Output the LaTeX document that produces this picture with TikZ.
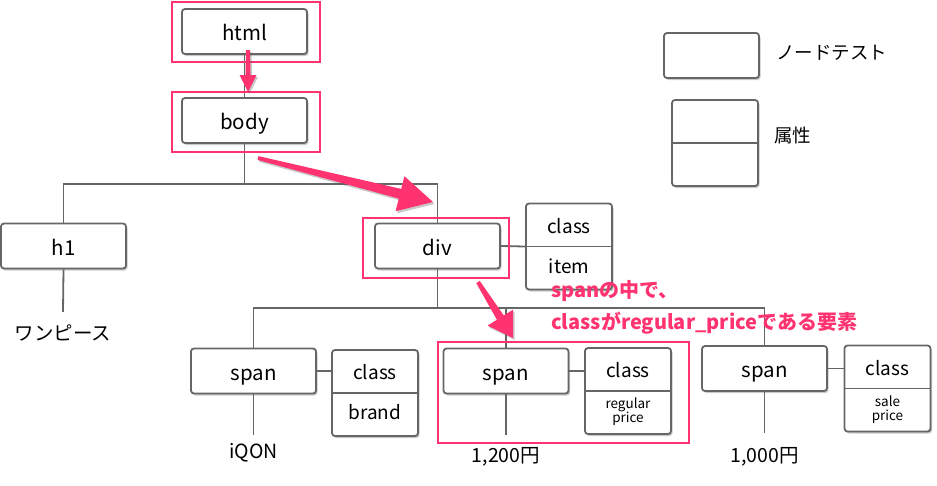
\documentclass[tikz,border=0pt]{standalone}
\usepackage{fontspec}
\setmainfont{Noto Sans CJK JP}
\usetikzlibrary{shadows}
\definecolor{gline}{HTML}{666666}
\definecolor{hot}{HTML}{FF3370}
\begin{document}
\begin{tikzpicture}[x=1pt,y=-1pt,
  shad/.style={drop shadow={shadow xshift=1.5pt,shadow yshift=-2pt,opacity=0.3,fill=black!70}},
  box/.style={draw=gline,line width=1.8pt,rounded corners=3pt,fill=white,shad,
    minimum width=125pt,minimum height=45pt,inner sep=0pt,text height=22pt,text depth=4pt,
    font=\fontsize{20.5}{22}\selectfont},
  attr/.style={draw=gline,line width=1.8pt,rounded corners=3pt,fill=white,shad,
    minimum width=86pt,minimum height=86pt,inner sep=0pt},
  atxt/.style={inner sep=0pt,font=\fontsize{19}{21}\selectfont},
  asmall/.style={inner sep=0pt,align=center,font=\fontsize{13.5}{14}\selectfont},
  leaf/.style={inner sep=0pt,font=\fontsize{19.5}{21}\selectfont},
  conn/.style={draw=gline,line width=1.8pt},
  hl/.style={draw=hot,line width=2.6pt},
  pinktxt/.style={text=hot,inner sep=0pt,anchor=west,font=\bfseries\fontsize{20}{22}\selectfont},
  legtxt/.style={inner sep=0pt,anchor=west,font=\fontsize{18.5}{20}\selectfont}]
\useasboundingbox (0,0) rectangle (937,485);

% tree nodes
\node[box] (html) at (244.5,31.5) {html};
\node[box] (body) at (244.5,120.5) {body};
\node[box] (h1) at (63.5,246) {h1};
\node[box] (div) at (437.5,246) {div};
\node[box] (s1) at (253.5,371) {span};
\node[box] (s2) at (506,371) {span};
\node[box] (s3) at (764.5,368.5) {span};

% attribute boxes
\node[attr] (cdiv) at (569,246.5) {};
\node[attr] (c1) at (375,393) {};
\node[attr] (c2) at (628,391) {};
\node[attr] (c3) at (887.5,388.5) {};

\node[atxt] (cdivk) at (569,226.5) {class};
\node[atxt] (cdivv) at (569,266.5) {item};
\node[atxt] (c1k) at (375,372) {class};
\node[atxt] (c1v) at (375,412) {brand};
\node[atxt] (c2k) at (628,370) {class};
\node[asmall] (c2v) at (628,412) {regular\\price};
\node[atxt] (c3k) at (887.5,368) {class};
\node[asmall] (c3v) at (887.5,410) {sale\\price};

% leaf texts
\node[leaf,minimum height=42pt] (t0) at (63,333) {ワンピース};
\node[leaf,minimum height=36pt] (t1) at (253.5,453) {iQON};
\node[leaf,minimum height=44pt] (t2) at (506,457) {1,200円};
\node[leaf,minimum height=48pt] (t3) at (764.5,457) {1,000円};

% legend
\node[box,minimum width=95pt] (lnode) at (711.5,55.5) {};
\node[attr] (lattr) at (715,143) {};
\node[legtxt] (lnodet) at (776,53) {ノードテスト};
\node[legtxt] (lattrt) at (774,135) {属性};

% connectors
\coordinate (bus1) at (0,184);
\coordinate (bus2) at (0,308);
\draw[conn] (html.south) -- (body.north);
\draw[conn] (body.south) -- (body.south |- bus1);
\draw[conn] (h1.north) -- (h1.north |- bus1) -- (div.north |- bus1) -- (div.north);
\draw[conn] (h1.south) -- (t0.north);
\draw[conn] (div.east) -- (cdiv.west);
\draw[conn] (div.south) -- (div.south |- bus2);
\draw[conn] (s1.north) -- (s1.north |- bus2) -- (s3.north |- bus2) -- (s3.north);
\draw[conn] (s2.north) -- (s2.north |- bus2);
\draw[conn] (s1.east) -- (s1.east -| c1.west);
\draw[conn] (s2.east) -- (s2.east -| c2.west);
\draw[conn] (s3.east) -- (s3.east -| c3.west);
\draw[conn] (s1.south) -- (t1.north);
\draw[conn] (s2.south) -- (t2.north);
\draw[conn] (s3.south) -- (t3.north);
% dividers
\draw[conn] (cdiv.west) -- (cdiv.east);
\draw[conn] (c1.west) -- (c1.east);
\draw[conn] (c2.west) -- (c2.east);
\draw[conn] (c3.west) -- (c3.east);
\draw[conn] (lattr.west) -- (lattr.east);

% highlight frames
\draw[hl] (172,2) rectangle (320,62);
\draw[hl] (172,92) rectangle (320,152);
\draw[hl] (363,218) rectangle (509,278);
\draw[hl] (438,342) rectangle (689,443);

% pink arrows
\fill[hot,shad] (246,50) -- (245.5,75) -- (239.5,75) -- (248,92) -- (256.5,75) -- (250.5,75) -- (250,50) -- cycle;
\fill[hot,shad] (258.5,156.1) -- (401.2,188.9) -- (404.4,176.2) -- (433,202) -- (395.6,211.2) -- (398.8,198.6) -- (257.5,159.9) -- cycle;
\fill[hot,shad] (479.7,280.9) -- (503.7,315.5) -- (513.0,309.7) -- (513,338) -- (487.6,325.6) -- (496.9,319.7) -- (476.3,283.1) -- cycle;

% pink note
\node[pinktxt] (note1) at (551,291) {spanの中で、};
\node[pinktxt] (note2) at (551,323) {classがregular\_priceである要素};
\end{tikzpicture}
\end{document}
